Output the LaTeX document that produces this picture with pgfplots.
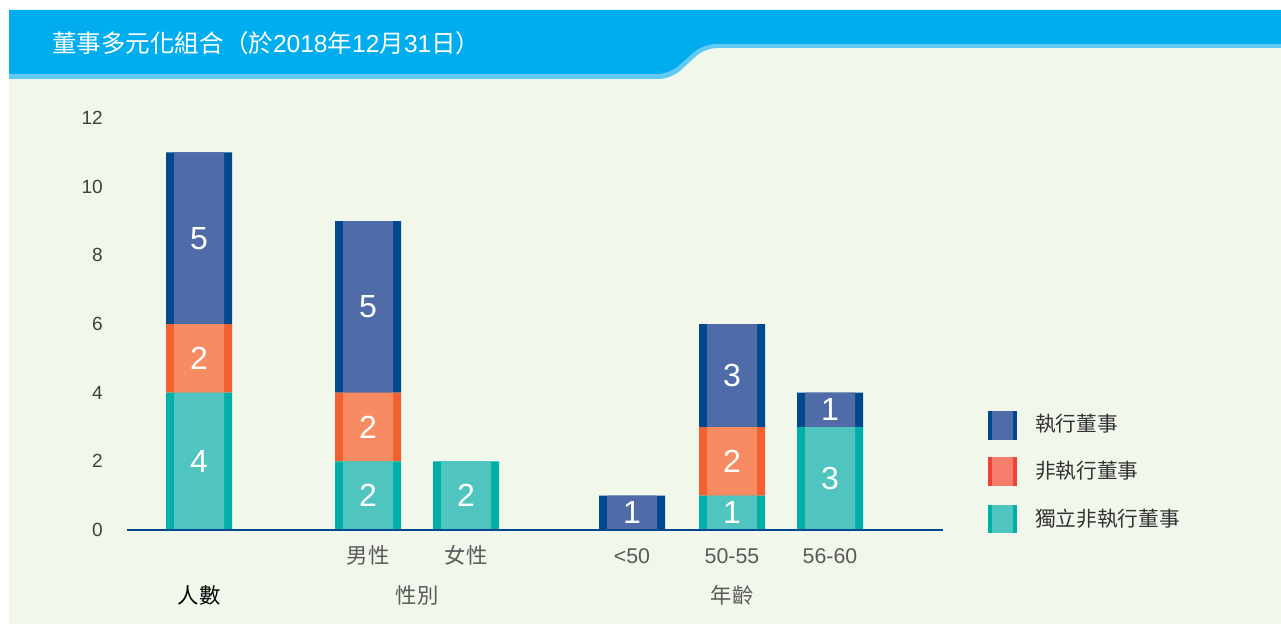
\documentclass[border=0pt]{standalone}
\usepackage{fontspec}
\setmainfont{Liberation Sans}
\newfontfamily\cjk{Noto Sans CJK TC}
\usepackage{pgfplots}
\usepackage{pgfplotstable}
\pgfplotsset{compat=1.18}

\definecolor{bandc}{HTML}{00ADEE}
\definecolor{bandlt}{HTML}{62C9F2}
\definecolor{bgg}{HTML}{F2F7EC}
\definecolor{blueD}{HTML}{00498F}
\definecolor{blueL}{HTML}{4F6CA9}
\definecolor{orD}{HTML}{F26131}
\definecolor{orL}{HTML}{F78B61}
\definecolor{tlD}{HTML}{00B0A8}
\definecolor{tlL}{HTML}{50C4BF}
\definecolor{lgOrD}{HTML}{EF4136}
\definecolor{lgOrL}{HTML}{F47D6B}
\definecolor{tickc}{HTML}{404040}
\definecolor{catc}{HTML}{595959}
\definecolor{legc}{HTML}{333333}

% board composition; x = bar centre position
\pgfplotstableread{
x   teal orange blue
199 4    2      5
368 2    2      5
466 2    0      0
632 0    0      1
732 1    2      3
830 3    0      1
}\boards

\pgfplotsset{
  base/.style={
    scale only axis, width=612pt, height=309pt,
    at={(95.25pt,-397.5pt)}, anchor=south west,
    xmin=127, xmax=943, ymin=0, ymax=12,
    enlargelimits=false, clip=false,
    /pgf/number format/assume math mode=true,
  },
  vallabel/.style={
    draw=none, mark=none, point meta=explicit,
    nodes near coords={\pgfmathfloatifflags{\pgfplotspointmeta}{0}{}{\pgfmathprintnumber{\pgfplotspointmeta}}},
    nodes near coords style={anchor=center, inner sep=0pt,
      font=\fontsize{24pt}{26pt}\selectfont, text=white},
  },
}

\begin{document}
\begin{tikzpicture}
% background and header band
\begin{scope}[x=0.75pt,y=-0.75pt]
\fill[white] (0,0) rectangle (1281,624);
\fill[bgg] (9,44) rectangle (1281,624);
\fill[bandlt] (9,15) -- (1281,15) -- (1281,48) [rounded corners=9]-- (705,48) -- (671,79) [sharp corners]-- (9,79) -- cycle;
\fill[bandc] (9,10) -- (1281,10) -- (1281,44) [rounded corners=9]-- (703,44) -- (669,74) [sharp corners]-- (9,74) -- cycle;
\node[anchor=west, inner sep=0pt, text=white, font=\fontsize{18.4pt}{20pt}\selectfont] at (52,43)
  {{\cjk 董事多元化組合（於}2018{\cjk 年}12{\cjk 月}31{\cjk 日）}};
\end{scope}

% dark side strips (full bar width)
\begin{axis}[base, hide axis, ybar stacked, bar width=49.5pt]
\addplot[fill=tlD, draw=none] table[x=x, y=teal] {\boards};
\addplot[fill=orD, draw=none] table[x=x, y=orange] {\boards};
\addplot[fill=blueD, draw=none] table[x=x, y=blue] {\boards};
\end{axis}

% lighter bar faces
\begin{axis}[base, hide axis, ybar stacked, bar width=37.5pt]
\addplot[fill=tlL, draw=none] table[x=x, y=teal] {\boards};
\addplot[fill=orL, draw=none] table[x=x, y=orange] {\boards};
\addplot[fill=blueL, draw=none] table[x=x, y=blue] {\boards};
\end{axis}

% axis line, ticks and value labels
\begin{axis}[base, axis on top,
    axis x line*=bottom, axis y line*=left,
    x axis line style={draw=blueD, line width=1.5pt, -},
    y axis line style={draw=none},
    tick style={draw=none},
    ytick={0,2,...,12},
    xtick={368,466,632,732,830},
    xticklabels={{\cjk 男性},{\cjk 女性},<50,50-55,56-60},
    extra x ticks={199,417,732},
    extra x tick labels={{\color{black}\cjk 人數},{\cjk 性別},{\cjk 年齡}},
    extra x tick style={xticklabel style={yshift=-30pt}},
    yticklabel style={font=\fontsize{14.3pt}{16pt}\selectfont, text=tickc,
      anchor=east, inner sep=0pt, xshift=-18pt},
    xticklabel style={font=\fontsize{16pt}{18pt}\selectfont, text=catc,
      anchor=base, inner sep=0pt, yshift=-24.75pt},
  ]
\addplot[vallabel] table[x=x, y expr=\thisrow{teal}/2, meta=teal] {\boards};
\addplot[vallabel] table[x=x, y expr=\thisrow{teal}+\thisrow{orange}/2, meta=orange] {\boards};
\addplot[vallabel] table[x=x, y expr=\thisrow{teal}+\thisrow{orange}+\thisrow{blue}/2, meta=blue] {\boards};
\end{axis}

% legend
\begin{scope}[x=0.75pt,y=-0.75pt]
\fill[blueD] (988,411) rectangle (1017,440);
\fill[blueL] (992,411) rectangle (1013,440);
\fill[lgOrD] (988,457) rectangle (1017,486);
\fill[lgOrL] (992,457) rectangle (1013,486);
\fill[tlD] (988,505) rectangle (1017,533);
\fill[tlL] (992,505) rectangle (1013,533);
\begin{scope}[every node/.style={anchor=west, inner sep=0pt, text=legc, font=\cjk\fontsize{15.5pt}{17pt}\selectfont}]
\node at (1035,424) {執行董事};
\node at (1035,471) {非執行董事};
\node at (1035,519) {獨立非執行董事};
\end{scope}
\end{scope}

\pgfresetboundingbox
\useasboundingbox (0,0) rectangle (960.75pt,-468pt);
\end{tikzpicture}
\end{document}
